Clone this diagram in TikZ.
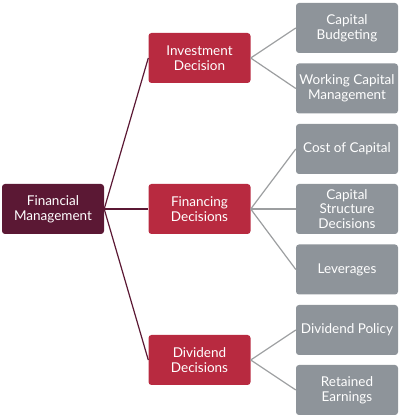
\documentclass[tikz,border=0pt]{standalone}
\usepackage{fontspec}
\setmainfont{Lato}
\definecolor{fmcol}{HTML}{5B1834}
\definecolor{redcol}{HTML}{B82A40}
\definecolor{greycol}{HTML}{8E949A}
\definecolor{greyline}{HTML}{9C9EA0}
\begin{document}
\begin{tikzpicture}[x=1pt,y=1pt,
  box/.style={rounded corners=3pt,minimum width=102pt,minimum height=50pt,inner sep=0pt,
    align=center,text=white,font=\fontsize{13.5}{14.8}\selectfont},
  fmbox/.style={box,fill=fmcol},
  redbox/.style={box,fill=redcol},
  greybox/.style={box,fill=greycol},
  fmline/.style={draw=fmcol,line width=1.2pt},
  greyconn/.style={draw=greyline,line width=1.2pt}]
\useasboundingbox (0,0) rectangle (400,418);
\node[fmbox] (fm) at (53,209) {Financial\\Management};
\node[redbox] (inv) at (199.5,360) {Investment\\Decision};
\node[redbox] (fin) at (199.5,209) {Financing\\Decisions};
\node[redbox] (div) at (199.5,58) {Dividend\\Decisions};
\node[greybox] (cb) at (347,390) {Capital\\Budgeting};
\node[greybox] (wcm) at (347,329.5) {Working Capital\\Management};
\node[greybox] (coc) at (347,269) {Cost of Capital};
\node[greybox] (csd) at (347,209) {Capital\\Structure\\Decisions};
\node[greybox] (lev) at (347,148.5) {Leverages};
\node[greybox] (dp) at (347,88) {Dividend Policy};
\node[greybox] (re) at (347,28) {Retained\\Earnings};
\draw[fmline] (fm.east) -- (inv.west);
\draw[fmline] (fm.east) -- (fin.west);
\draw[fmline] (fm.east) -- (div.west);
\draw[greyconn] (inv.east) -- (cb.west);
\draw[greyconn] (inv.east) -- (wcm.west);
\draw[greyconn] (fin.east) -- (coc.west);
\draw[greyconn] (fin.east) -- (csd.west);
\draw[greyconn] (fin.east) -- (lev.west);
\draw[greyconn] (div.east) -- (dp.west);
\draw[greyconn] (div.east) -- (re.west);
\end{tikzpicture}
\end{document}
